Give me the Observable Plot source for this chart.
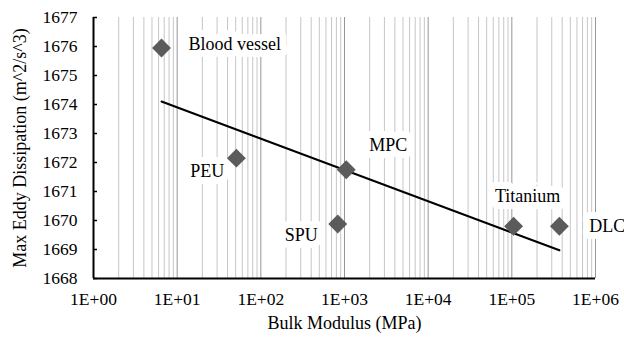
<!DOCTYPE html>
<html>
<head>
<meta charset="utf-8">
<script src="https://cdn.jsdelivr.net/npm/d3@7"></script>
<script src="https://cdn.jsdelivr.net/npm/@observablehq/plot@0.6"></script>
<style>
  html, body { margin: 0; padding: 0; background: #fff; }
  #chart svg { display: block; }
  #chart svg, #chart svg text { font-family: "Liberation Serif", "Times New Roman", serif !important; }
</style>
</head>
<body>
<div id="chart"></div>
<script>
// ---- data ----
const materials = ["Blood vessel", "PEU", "MPC", "SPU", "Titanium", "DLC"];
const bulkModulus = [6.5, 51, 1050, 830, 105000, 370000];          // MPa
const dissipation = [1675.95, 1672.15, 1671.75, 1669.88, 1669.80, 1669.80];
const xTickValues = [1, 10, 100, 1000, 10000, 100000, 1000000];
const xTickLabels = ["1E+00", "1E+01", "1E+02", "1E+03", "1E+04", "1E+05", "1E+06"];
const yTickValues = [1668, 1669, 1670, 1671, 1672, 1673, 1674, 1675, 1676, 1677];
const minorMultipliers = [2, 3, 4, 5, 6, 7, 8, 9];

// label placement (styling only)
const labelStyle = {
  "Blood vessel": {dx: 27, dy: -4, anchor: "start"},
  "PEU": {dx: -12, dy: 13, anchor: "end"},
  "MPC": {dx: 23, dy: -25, anchor: "start"},
  "SPU": {dx: -20, dy: 11, anchor: "end"},
  "Titanium": {dx: 14, dy: -30, anchor: "middle"},
  "DLC": {dx: 30, dy: 0, anchor: "start"}
};

const rows = materials.map((m, i) => ({material: m, x: bulkModulus[i], y: dissipation[i]}));

// minor gridline positions (2..9 within each decade)
const minorTicks = xTickValues.slice(0, -1).flatMap(dec => minorMultipliers.map(k => k * dec));

// logarithmic trendline (least squares on log10 x)
const lx = rows.map(d => Math.log10(d.x));
const mx = d3.mean(lx), my = d3.mean(rows, d => d.y);
const slope = d3.sum(rows, (d, i) => (lx[i] - mx) * (d.y - my)) / d3.sum(lx, v => (v - mx) ** 2);
const fit = x => my + slope * (Math.log10(x) - mx);
const xMin = d3.min(bulkModulus), xMax = d3.max(bulkModulus);
const trend = [{x: xMin, y: fit(xMin)}, {x: xMax, y: fit(xMax)}];

const font = "Liberation Serif";
const fmtX = d => xTickLabels[xTickValues.indexOf(d)] ?? "";

const labelMarks = materials.map(m => {
  const s = labelStyle[m];
  return Plot.text(rows.filter(d => d.material === m), {
    x: "x", y: "y", text: "material",
    dx: s.dx, dy: s.dy, textAnchor: s.anchor,
    fontSize: 18, fontFamily: font, fill: "#000",
    stroke: "white", strokeWidth: 14, strokeLinejoin: "round"
  });
});

const chart = Plot.plot({
  width: 624,
  height: 338,
  marginLeft: 93,
  marginRight: 29,
  marginTop: 17,
  marginBottom: 60,
  style: {fontSize: "17.5px", color: "#000", background: "white"},
  x: {type: "log", domain: [1, 1000000]},
  y: {domain: [1668, 1677]},
  marks: [
    Plot.gridX(minorTicks, {stroke: "#c6c6c6", strokeOpacity: 1, strokeWidth: 1}),
    Plot.gridX(xTickValues, {stroke: "#969696", strokeOpacity: 1, strokeWidth: 1}),
    Plot.axisX(xTickValues, {tickSize: 0, tickPadding: 14, tickFormat: fmtX, label: null, fontSize: 17.5, fontFamily: font}),
    Plot.axisY(yTickValues, {tickSize: 0, tickPadding: 16, tickFormat: d => String(d), label: null, fontSize: 17.5, fontFamily: font}),
    Plot.axisY(yTickValues, {tickSize: 4, dx: 4, tickFormat: () => "", label: null, stroke: "#000", strokeWidth: 1.5}),
    Plot.ruleX([1], {stroke: "#000", strokeWidth: 2}),
    Plot.ruleY([1668], {stroke: "#000", strokeWidth: 2}),
    ...labelMarks,
    Plot.line(trend, {x: "x", y: "y", stroke: "#000", strokeWidth: 2}),
    Plot.dot(rows, {x: "x", y: "y", symbol: "diamond2", r: 8.5, fill: "#5b5b5b", stroke: "none"}),
    Plot.text(["Bulk Modulus (MPa)"], {frameAnchor: "bottom", dy: 50, text: d => d, textAnchor: "middle", fontSize: 18, fontFamily: font}),
    Plot.text(["Max Eddy Dissipation (m^2/s^3)"], {frameAnchor: "left", dx: -73, rotate: -90, text: d => d, textAnchor: "middle", fontSize: 18, fontFamily: font})
  ]
});
document.getElementById("chart").appendChild(chart);
</script>
</body>
</html>
